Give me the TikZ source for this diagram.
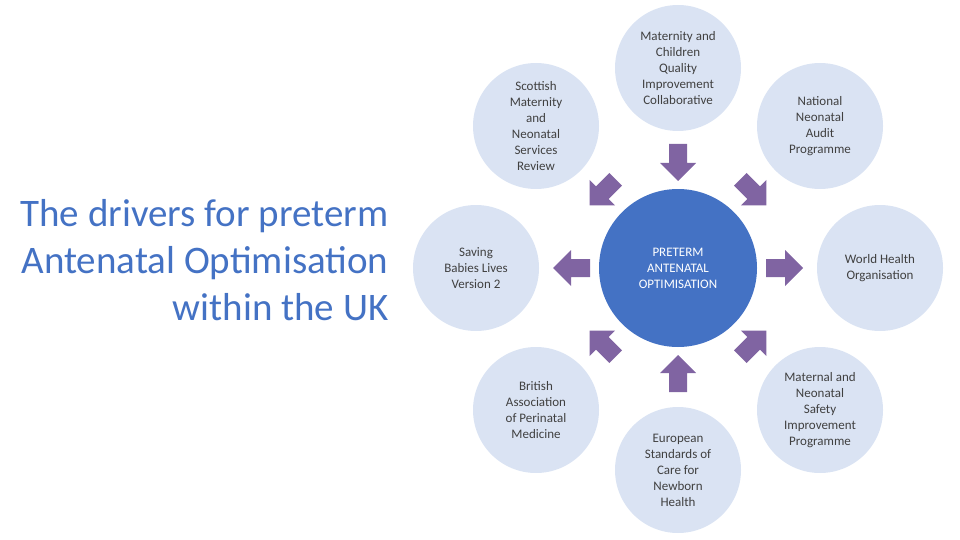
\documentclass[tikz,border=0pt]{standalone}
\usepackage{fontspec}
\setmainfont{Carlito}
\definecolor{lightc}{HTML}{DAE3F3}
\definecolor{mainc}{HTML}{4472C4}
\definecolor{arrc}{HTML}{8064A2}
\definecolor{txt}{HTML}{404040}
\tikzset{
 outer/.style={circle,fill=lightc,minimum size=126pt,inner sep=0pt,align=center,font=\fontsize{13}{16}\selectfont,text=txt},
 barrow/.style={fill=arrc,draw=none}
}
\newcommand\blockarr[4]{%
 \coordinate (#1) at (#2,#3);
 \begin{scope}[shift={(#1)},rotate=-#4]
 \fill[barrow] (-18,-9) -- (1,-9) -- (1,-18) -- (19,0) -- (1,18) -- (1,9) -- (-18,9) -- cycle;
 \end{scope}}
\begin{document}
\begin{tikzpicture}[x=1pt,y=-1pt]
\useasboundingbox (0,0) rectangle (960,540);
\node[anchor=east,align=right,text=mainc,font=\fontsize{39}{47}\selectfont] (title) at (392,260) {The drivers for preterm\\Antenatal Optimisation\\within the UK};
\node[circle,fill=mainc,minimum size=158pt,inner sep=0pt,align=center,text=white,font=\fontsize{13}{16}\selectfont] (c) at (678,268) {PRETERM\\ANTENATAL\\OPTIMISATION};
\node[outer] (n) at (678,68) {Maternity and\\Children\\Quality\\Improvement\\Collaborative};
\node[outer] (ne) at (820,126) {National\\Neonatal\\Audit\\Programme};
\node[outer] (e) at (880,268) {World Health\\Organisation};
\node[outer] (se) at (820,410) {Maternal and\\Neonatal\\Safety\\Improvement\\Programme};
\node[outer] (s) at (678,470) {European\\Standards of\\Care for\\Newborn\\Health};
\node[outer] (sw) at (536,410) {British\\Association\\of Perinatal\\Medicine};
\node[outer] (w) at (476,268) {Saving\\Babies Lives\\Version 2};
\node[outer] (nw) at (536,126) {Scottish\\Maternity\\and\\Neonatal\\Services\\Review};
\blockarr{an}{678}{162}{90}
\blockarr{ane}{753}{192}{45}
\blockarr{ae}{784}{268}{0}
\blockarr{ase}{753}{344}{-45}
\blockarr{as}{678}{374}{-90}
\blockarr{asw}{603}{344}{-135}
\blockarr{aw}{572}{268}{180}
\blockarr{anw}{603}{192}{135}
\end{tikzpicture}
\end{document}
